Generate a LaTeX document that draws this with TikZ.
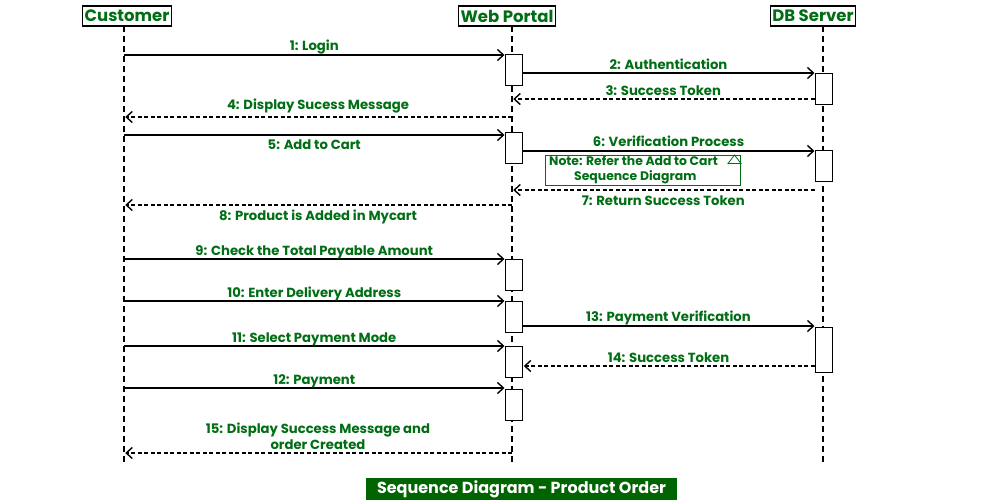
\documentclass[tikz,border=0pt]{standalone}
\usepackage{fontspec}
\setmainfont{Poppins}
\usetikzlibrary{arrows.meta}
\definecolor{lbl}{RGB}{0,110,20}
\definecolor{title}{RGB}{0,100,0}
\tikzset{
  actor/.style={draw=black,line width=1.2pt,fill=white,inner xsep=2pt,inner ysep=1pt,font=\fontsize{16.5}{17}\selectfont\bfseries,text=lbl,minimum height=20pt},
  life/.style={line width=1.3pt,dash pattern=on 6pt off 4pt},
  act/.style={draw=black,line width=1pt,fill=white,minimum width=17pt,inner sep=0pt},
  msg/.style={line width=1.4pt,-{Straight Barb[length=6pt,width=11pt,line width=1.4pt]}},
  ret/.style={line width=1.2pt,dash pattern=on 4pt off 2.5pt,-{Straight Barb[length=6pt,width=11pt,line width=1.4pt,sep]}},
  lab/.style={font=\fontsize{13.2}{16}\selectfont\bfseries,text=lbl,inner sep=0pt,align=center},
  up/.style={midway,anchor=base,yshift=#1},
  notelab/.style={font=\fontsize{12.4}{15}\selectfont\bfseries,text=lbl,inner sep=0pt},
}
\begin{document}
\begin{tikzpicture}[x=1pt,y=-1pt]
\useasboundingbox (0,0) rectangle (1000,500);
% actors
\node[actor] (cu) at (127,16) {Customer};
\node[actor] (wp) at (507,16) {Web Portal};
\node[actor] (db) at (813,16) {DB Server};
% lifeline coordinates
\coordinate (cuT) at (124,26); \coordinate (cuB) at (124,465);
\coordinate (wpT) at (512,26); \coordinate (wpB) at (512,465);
\coordinate (dbT) at (823,26); \coordinate (dbB) at (823,465);
\draw[life] (cuT) -- (cuB);
\draw[life] (wpT) -- (wpB);
\draw[life] (dbT) -- (dbB);
% activation boxes
\node[act,minimum height=31pt] (w1) at (513.5,70.5) {};
\node[act,minimum height=31pt] (w2) at (513.5,147.5) {};
\node[act,minimum height=31pt] (w3) at (513.5,274.5) {};
\node[act,minimum height=31pt] (w4) at (513.5,316.5) {};
\node[act,minimum height=31pt] (w5) at (513.5,361.5) {};
\node[act,minimum height=31pt] (w6) at (513.5,404.5) {};
\node[act,minimum height=31pt] (d1) at (823.5,89.5) {};
\node[act,minimum height=31pt] (d2) at (823.5,165.5) {};
\node[act,minimum height=45pt] (d3) at (823.5,349.5) {};
% messages
\coordinate (c1) at (124,55);
\draw[msg] (c1) -- (w1.west |- c1) node[lab,up=4.5pt] {1: Login};
\coordinate (a2) at (522,73);
\draw[msg] (w1.east |- a2) -- (d1.west |- a2) node[lab,up=3pt] {2: Authentication};
\coordinate (a3) at (512,99);
\draw[ret] (d1.west |- a3) -- (a3) node[lab,up=3.5pt] {3: Success Token};
\coordinate (a4) at (124,117);
\draw[ret] (wpT |- a4) -- (a4) node[lab,up=7.5pt] {4: Display Sucess Message};
\coordinate (c5) at (124,135);
\draw[msg] (c5) -- (w2.west |- c5) node[lab,up=-14.5pt] {5: Add to Cart};
\coordinate (a6) at (522,151);
\draw[msg] (w2.east |- a6) -- (d2.west |- a6) node[lab,up=4.5pt] {6: Verification Process};
% note
\node[draw=lbl,line width=0.8pt,fill=white,minimum width=195pt,minimum height=30pt,inner sep=0pt] (note) at (642.5,170) {};
\node[notelab,anchor=north west] (nt1) at (549,156) {Note: Refer the Add to Cart};
\node[notelab,anchor=north west] (nt2) at (574,170.5) {Sequence Diagram};
\draw[draw=lbl,line width=0.8pt,fill=white] (728,163.5) -- (741,163.5) -- (734.5,155) -- cycle;
\coordinate (a7) at (512,190);
\draw[ret] (d2.west |- a7) -- (a7) node[lab,up=-15.5pt] {7: Return Success Token};
\coordinate (a8) at (124,205);
\draw[ret] (wpT |- a8) -- (a8) node[lab,up=-15.5pt] {8: Product is Added in Mycart};
\coordinate (c9) at (124,259);
\draw[msg] (c9) -- (w3.west |- c9) node[lab,up=3.5pt] {9: Check the Total Payable Amount};
\coordinate (c10) at (124,301);
\draw[msg] (c10) -- (w4.west |- c10) node[lab,up=3.5pt] {10: Enter Delivery Address};
\coordinate (a13) at (522,326);
\draw[msg] (w4.east |- a13) -- (d3.west |- a13) node[lab,up=4.5pt] {13: Payment Verification};
\coordinate (c11) at (124,346);
\draw[msg] (c11) -- (w5.west |- c11) node[lab,up=3.5pt] {11: Select Payment Mode};
\coordinate (a14) at (522,366);
\draw[ret] (d3.west |- a14) -- (w5.east |- a14) node[lab,up=3.5pt] {14: Success Token};
\coordinate (c12) at (124,388);
\draw[msg] (c12) -- (w6.west |- c12) node[lab,up=3.5pt] {12: Payment};
\coordinate (a15) at (124,453);
\draw[ret] (wpT |- a15) -- (a15) node[lab,midway,above=2.5pt] {15: Display Success Message and\\order Created};
% title
\node[fill=title,text=white,font=\fontsize{16}{18}\selectfont\bfseries,minimum width=311pt,minimum height=22pt,inner sep=0pt] (ttl) at (521.5,489) {Sequence Diagram - Product Order};
\end{tikzpicture}
\end{document}
